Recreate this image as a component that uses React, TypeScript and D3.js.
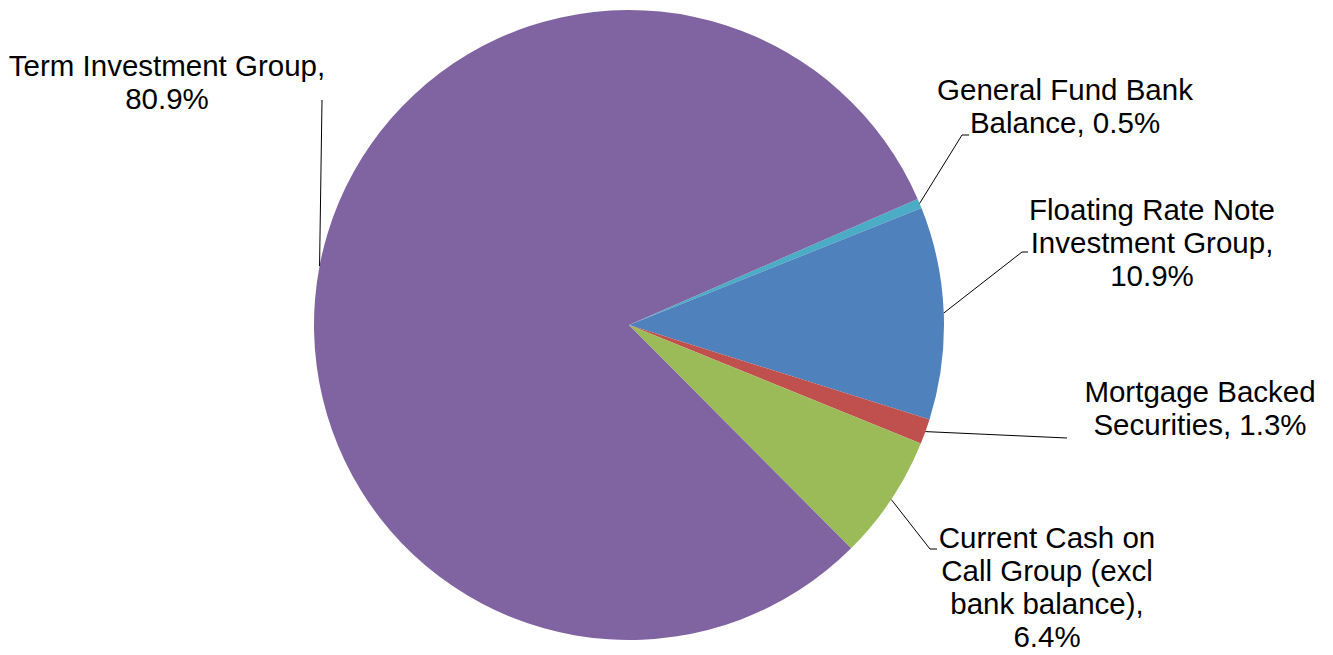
import React from "react";
import * as d3 from "d3";

const categories = [
  "General Fund Bank Balance",
  "Floating Rate Note Investment Group",
  "Mortgage Backed Securities",
  "Current Cash on Call Group (excl bank balance)",
  "Term Investment Group",
];
const values = [0.5, 10.9, 1.3, 6.4, 80.9];
const labelLines = [
  ["General Fund Bank", "Balance, 0.5%"],
  ["Floating Rate Note", "Investment Group,", "10.9%"],
  ["Mortgage Backed", "Securities, 1.3%"],
  ["Current Cash on", "Call Group (excl", "bank balance),", "6.4%"],
  ["Term Investment Group,", "80.9%"],
];
const colors = ["#4BACC6", "#4F81BD", "#C0504D", "#9BBB59", "#8064A2"];

// layout: label center x, first baseline y, leader elbow point
const labelLayout = [
  { cx: 1065, y: 100, elbow: [962, 135], end: [969, 135] },
  { cx: 1152, y: 220, elbow: [1022, 252], end: [1028, 252] },
  { cx: 1200, y: 402, elbow: null, end: [1067, 438] },
  { cx: 1047, y: 548, elbow: [930, 549], end: [937, 549] },
  { cx: 167, y: 76, elbow: null, end: [322, 100] },
];

const W = 1333;
const H = 655;
const CX = 629;
const CY = 325;
const R = 315;
const START = (66.4 * Math.PI) / 180;

export default function App() {
  const pie = d3
    .pie<number>()
    .sort(null)
    .value((d) => d)
    .startAngle(START)
    .endAngle(START + 2 * Math.PI);
  const arcs = pie(values);
  const arc = d3.arc<d3.PieArcDatum<number>>().innerRadius(0).outerRadius(R);
  const lineH = 33;

  return (
    <svg
      width={W}
      height={H}
      style={{ position: "absolute", left: 0, top: 0, background: "#fff" }}
      fontFamily="'Liberation Sans', Arial, sans-serif"
    >
      <g transform={`translate(${CX},${CY})`}>
        {arcs.map((a, i) => (
          <path key={categories[i]} d={arc(a) || ""} fill={colors[i]} />
        ))}
      </g>
      {arcs.map((a, i) => {
        const mid = (a.startAngle + a.endAngle) / 2;
        const sx = CX + R * Math.sin(mid);
        const sy = CY - R * Math.cos(mid);
        const L = labelLayout[i];
        const pts: [number, number][] = [[sx, sy]];
        if (L.elbow) pts.push(L.elbow as [number, number]);
        pts.push(L.end as [number, number]);
        const line = d3.line()(pts) || "";
        return (
          <g key={"lab" + i}>
            <path d={line} fill="none" stroke="#000" strokeWidth={1} />
            <text textAnchor="middle" fontSize={29.5} fill="#000">
              {labelLines[i].map((t, j) => (
                <tspan key={j} x={L.cx} y={L.y + j * lineH}>
                  {t}
                </tspan>
              ))}
            </text>
          </g>
        );
      })}
    </svg>
  );
}
